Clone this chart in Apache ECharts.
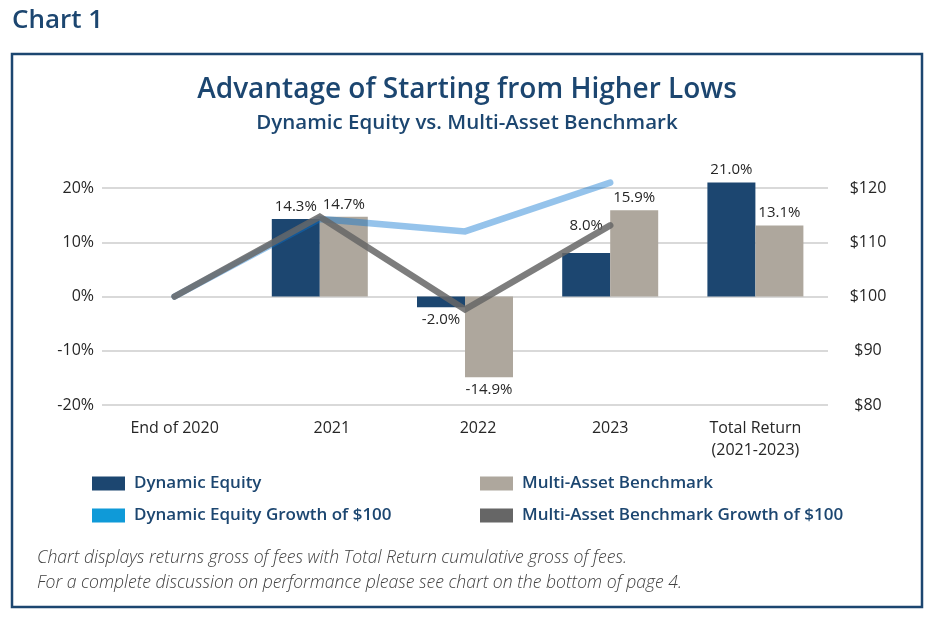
<!DOCTYPE html>
<html>
<head>
<meta charset="utf-8">
<script src="https://cdn.jsdelivr.net/npm/echarts/dist/echarts.min.js"></script>
<style>
html,body{margin:0;padding:0;background:#fff;}
#chart{width:936px;height:621px;}
</style>
</head>
<body>
<div id="chart"></div>
<script>
// ---- data ----
var categories = ['End of 2020', '2021', '2022', '2023', 'Total Return\n(2021-2023)'];
var dynamicEquity = [null, 14.3, -2.0, 8.0, 21.0];
var multiAsset = [null, 14.7, -14.9, 15.9, 13.1];
var dynamicGrowth = [100, 114.3, 112.0, 121.0, null];
var multiGrowth = [100, 114.7, 97.6, 113.1, null];
var leftTicks = [-20, -10, 0, 10, 20];
var rightTicks = [80, 90, 100, 110, 120];

var NAVY = '#1c4670';
var BEIGE = '#aea79d';
var FONT = '"Open Sans", "Noto Sans", sans-serif';

// label shift for some category labels (as in reference)
var labelShift = {'2021': 24, '2022': 26};

function barData(vals, idx) {
  return vals.map(function (v, i) {
    if (v === null) return null;
    var item = {value: v, label: {position: v < 0 ? 'bottom' : 'top'}};
    if (idx === 0 && categories[i] === '2023') item.label.offset = [0, -15];
    return item;
  });
}

var chart = echarts.init(document.getElementById('chart'), null, {renderer: 'canvas'});
var option = {
  animation: false,
  textStyle: {fontFamily: FONT},
  graphic: [
    {type: 'rect', shape: {x: 12, y: 54, width: 910, height: 553},
     style: {fill: 'none', stroke: NAVY, lineWidth: 2.5}, z: 0},
    {type: 'text', x: 12, y: 21,
     style: {text: 'Chart 1', fill: NAVY, font: '600 26px ' + FONT, textVerticalAlign: 'middle', textAlign: 'left'}},
    {type: 'text', x: 467, y: 90,
     style: {text: 'Advantage of Starting from Higher Lows', fill: NAVY, font: '600 28px ' + FONT, textVerticalAlign: 'middle', textAlign: 'center'}},
    {type: 'text', x: 467, y: 123,
     style: {text: 'Dynamic Equity vs. Multi-Asset Benchmark', fill: NAVY, font: '600 20.5px ' + FONT, textVerticalAlign: 'middle', textAlign: 'center'}},
    {type: 'text', x: 37, y: 558,
     style: {text: 'Chart displays returns gross of fees with Total Return cumulative gross of fees.', fill: '#404040', font: 'italic 300 17.6px ' + FONT, textVerticalAlign: 'middle', textAlign: 'left'}},
    {type: 'text', x: 37, y: 583,
     style: {text: 'For a complete discussion on performance please see chart on the bottom of page 4.', fill: '#404040', font: 'italic 300 17.6px ' + FONT, textVerticalAlign: 'middle', textAlign: 'left'}}
  ],
  legend: [
    {left: 87, top: 470, orient: 'vertical', icon: 'rect', itemWidth: 33, itemHeight: 14, itemGap: 15,
     selectedMode: false,
     itemStyle: {borderWidth: 0},
     textStyle: {color: NAVY, fontSize: 17, fontWeight: 600, fontFamily: FONT, padding: [0, 0, 0, 4]},
     data: [{name: 'Dynamic Equity', itemStyle: {color: NAVY, opacity: 1}},
            {name: 'Dynamic Equity Growth of $100', itemStyle: {color: '#0f9ad8', opacity: 1}}]},
    {left: 475, top: 470, orient: 'vertical', icon: 'rect', itemWidth: 33, itemHeight: 14, itemGap: 15,
     selectedMode: false,
     itemStyle: {borderWidth: 0},
     textStyle: {color: NAVY, fontSize: 17, fontWeight: 600, fontFamily: FONT, padding: [0, 0, 0, 4]},
     data: [{name: 'Multi-Asset Benchmark', itemStyle: {color: BEIGE, opacity: 1}},
            {name: 'Multi-Asset Benchmark Growth of $100', itemStyle: {color: '#666666', opacity: 1}}]}
  ],
  grid: {left: 102, right: 108, top: 188, bottom: 216, containLabel: false},
  xAxis: {
    type: 'category',
    data: categories.map(function (c) {
      var s = labelShift[c];
      return s ? {value: c, textStyle: {padding: [0, 0, 0, s]}} : c;
    }),
    axisLine: {show: false},
    axisTick: {show: false},
    axisLabel: {color: '#262626', fontSize: 16, fontFamily: FONT, margin: 12, lineHeight: 22, interval: 0}
  },
  yAxis: [
    {type: 'value', min: leftTicks[0], max: leftTicks[leftTicks.length - 1], interval: 10,
     axisLine: {show: false}, axisTick: {show: false},
     axisLabel: {formatter: '{value}%', color: '#262626', fontSize: 16, fontFamily: FONT, margin: 8},
     splitLine: {lineStyle: {color: '#d9d9d9', width: 2}}},
    {type: 'value', min: rightTicks[0], max: rightTicks[rightTicks.length - 1], interval: 10,
     position: 'right',
     axisLine: {show: false}, axisTick: {show: false},
     axisLabel: {formatter: '${value}', color: '#262626', fontSize: 16, fontFamily: FONT, margin: 40, align: 'center'},
     splitLine: {show: false}}
  ],
  series: [
    {name: 'Dynamic Equity', type: 'bar', barWidth: 48, barGap: '0%', clip: false,
     itemStyle: {color: NAVY},
     label: {show: true, distance: 5, color: '#262626', fontSize: 15, fontFamily: FONT,
             formatter: function (p) { return p.value.toFixed(1) + '%'; }},
     data: barData(dynamicEquity, 0), z: 2},
    {name: 'Multi-Asset Benchmark', type: 'bar', barWidth: 48, barGap: '0%', clip: false,
     itemStyle: {color: BEIGE},
     label: {show: true, distance: 5, color: '#262626', fontSize: 15, fontFamily: FONT,
             formatter: function (p) { return p.value.toFixed(1) + '%'; }},
     data: barData(multiAsset, 1), z: 2},
    {name: 'Dynamic Equity Growth of $100', type: 'line', yAxisIndex: 1, showSymbol: false, symbol: 'none', clip: false,
     color: '#0a74d0',
     lineStyle: {color: '#0a74d0', width: 6.5, opacity: 0.43, cap: 'round', join: 'miter'},
     data: dynamicGrowth, z: 3},
    {name: 'Multi-Asset Benchmark Growth of $100', type: 'line', yAxisIndex: 1, showSymbol: false, symbol: 'none', clip: false,
     color: '#666666',
     lineStyle: {color: '#666666', width: 6.5, opacity: 0.85, cap: 'round', join: 'miter'},
     data: multiGrowth, z: 4}
  ]
};
chart.setOption(option);
</script>
</body>
</html>
